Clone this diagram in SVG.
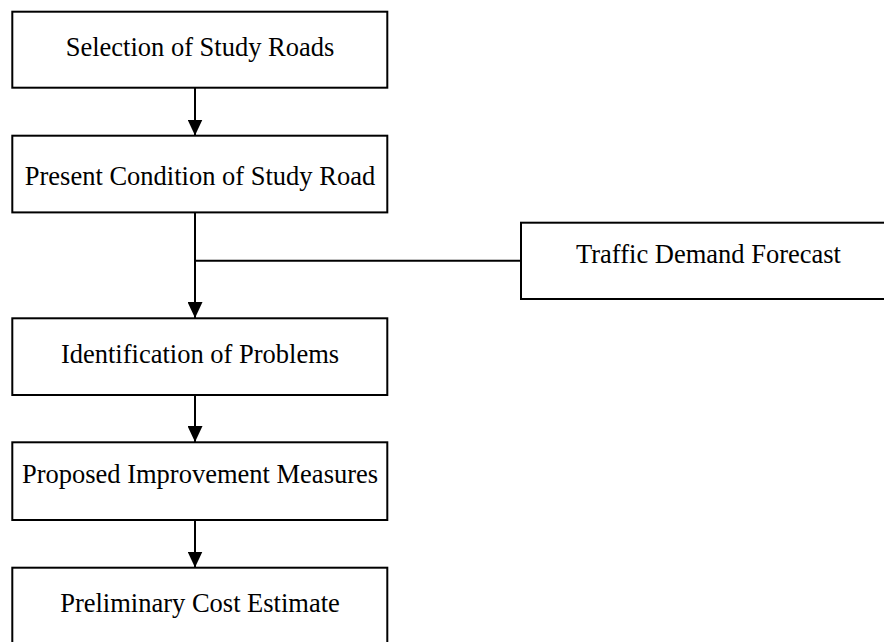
<svg xmlns="http://www.w3.org/2000/svg" width="884" height="642" viewBox="0 0 884 642">
<defs>
<marker id="ah" viewBox="0 0 16 15" refX="16" refY="7.5" markerWidth="16" markerHeight="15" markerUnits="userSpaceOnUse" orient="auto">
<path d="M0,0 L16,7.5 L0,15 z" fill="#000"/>
</marker>
</defs>
<style>
.box{fill:#fff;stroke:#000;stroke-width:2}
.lbl{font-family:"Liberation Serif","Times New Roman",serif;font-size:26.5px;fill:#000;text-anchor:middle}
.con{stroke:#000;stroke-width:2;fill:none}
</style>
<rect width="884" height="642" fill="#fff"/>
<g id="connectors">
<line class="con" x1="195" y1="88" x2="195" y2="135.5" marker-end="url(#ah)"/>
<line class="con" x1="195" y1="212.5" x2="195" y2="318" marker-end="url(#ah)"/>
<line class="con" x1="195" y1="260.7" x2="521" y2="260.7"/>
<line class="con" x1="195" y1="395" x2="195" y2="442" marker-end="url(#ah)"/>
<line class="con" x1="195" y1="520" x2="195" y2="567.5" marker-end="url(#ah)"/>
</g>
<g id="n1">
<rect class="box" x="12.3" y="11.7" width="375" height="76"/>
<text class="lbl" x="200" y="56">Selection of Study Roads</text>
</g>
<g id="n2">
<rect class="box" x="12.3" y="135.7" width="375" height="76.7"/>
<text class="lbl" x="200" y="185">Present Condition of Study Road</text>
</g>
<g id="n3">
<rect class="box" x="521" y="222.7" width="375" height="76.3"/>
<text class="lbl" x="708.5" y="263.3">Traffic Demand Forecast</text>
</g>
<g id="n4">
<rect class="box" x="12.3" y="318.3" width="375" height="76.7"/>
<text class="lbl" x="200" y="363.3">Identification of Problems</text>
</g>
<g id="n5">
<rect class="box" x="12.3" y="442.3" width="375" height="77.7"/>
<text class="lbl" x="200" y="482.7">Proposed Improvement Measures</text>
</g>
<g id="n6">
<rect class="box" x="12.3" y="567.7" width="375" height="78"/>
<text class="lbl" x="200" y="611.7">Preliminary Cost Estimate</text>
</g>
</svg>
